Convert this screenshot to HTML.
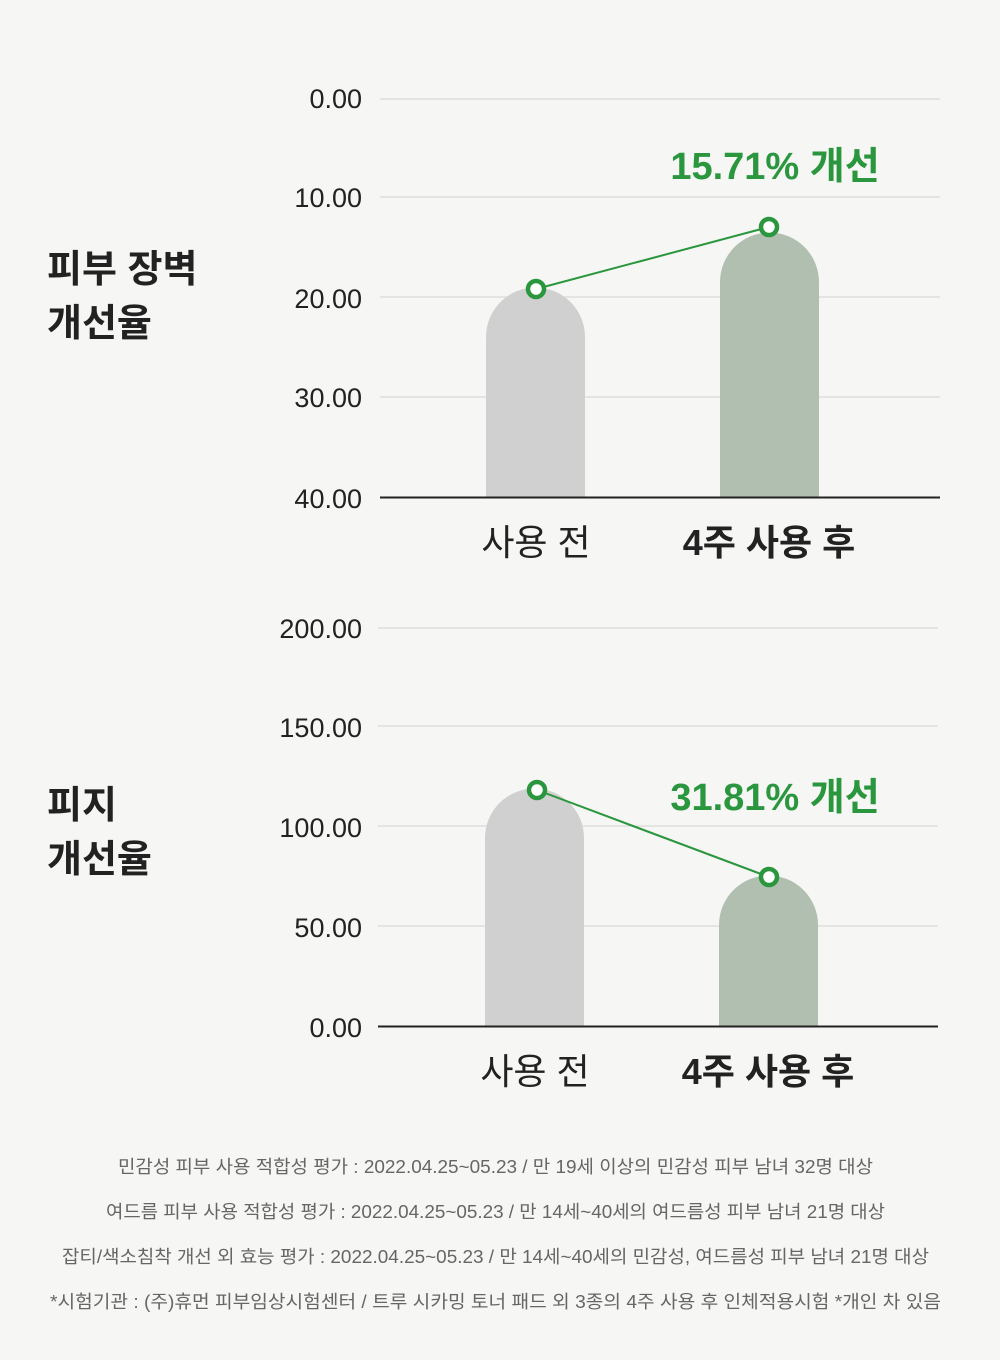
<!DOCTYPE html>
<html><head><meta charset="utf-8"><style>
html,body{margin:0;padding:0;background:#f6f6f4;}
svg{display:block;}
text{font-family:"Liberation Sans","Noto Sans CJK KR",sans-serif;}
</style></head><body>
<svg width="1000" height="1360" viewBox="0 0 1000 1360">
<rect width="1000" height="1360" fill="#f6f6f4"/>
<!-- chart 1 -->
<g stroke="#d2d2d0" stroke-width="1">
<line x1="380" y1="99" x2="940" y2="99"/><line x1="380" y1="197" x2="940" y2="197"/>
<line x1="380" y1="297" x2="940" y2="297"/><line x1="380" y1="397" x2="940" y2="397"/>
</g>
<g font-size="27" fill="#222" text-anchor="end">
<text x="362" y="108">0.00</text><text x="362" y="207">10.00</text><text x="362" y="308">20.00</text>
<text x="362" y="407">30.00</text><text x="362" y="508">40.00</text>
</g>
<path d="M486 497 V337 A49.5 49.5 0 0 1 585 337 V497 Z" fill="#d0d0d0"/>
<path d="M720 497 V282 A49.5 49.5 0 0 1 819 282 V497 Z" fill="#b0bfb0"/>
<line x1="380" y1="497.5" x2="940" y2="497.5" stroke="#222" stroke-width="2"/>
<line x1="536" y1="289" x2="769" y2="227" stroke="#2a963e" stroke-width="2"/>
<circle cx="536" cy="289" r="8" fill="#fff" stroke="#2a963e" stroke-width="4.5"/>
<circle cx="769" cy="227" r="8" fill="#fff" stroke="#2a963e" stroke-width="4.5"/>
<text x="775" y="179" font-size="38" font-weight="bold" fill="#2a963e" text-anchor="middle">15.71% 개선</text>
<text x="536" y="555" font-size="36" fill="#222" text-anchor="middle">사용 전</text>
<text x="769" y="555" font-size="36" font-weight="bold" fill="#222" text-anchor="middle">4주 사용 후</text>
<text x="47" y="282" font-size="38" font-weight="bold" fill="#222">피부 장벽</text>
<text x="47" y="336" font-size="38" font-weight="bold" fill="#222">개선율</text>
<!-- chart 2 -->
<g stroke="#d2d2d0" stroke-width="1">
<line x1="378" y1="628" x2="938" y2="628"/><line x1="378" y1="726" x2="938" y2="726"/>
<line x1="378" y1="826" x2="938" y2="826"/><line x1="378" y1="926" x2="938" y2="926"/>
</g>
<g font-size="27" fill="#222" text-anchor="end">
<text x="362" y="638">200.00</text><text x="362" y="737">150.00</text><text x="362" y="837">100.00</text>
<text x="362" y="937">50.00</text><text x="362" y="1037">0.00</text>
</g>
<path d="M485 1026 V838 A49.5 49.5 0 0 1 584 838 V1026 Z" fill="#d0d0d0"/>
<path d="M719 1026 V925 A49.5 49.5 0 0 1 818 925 V1026 Z" fill="#b0bfb0"/>
<line x1="378" y1="1026.5" x2="938" y2="1026.5" stroke="#222" stroke-width="2"/>
<line x1="537" y1="790" x2="769" y2="877" stroke="#2a963e" stroke-width="2"/>
<circle cx="537" cy="790" r="8" fill="#fff" stroke="#2a963e" stroke-width="4.5"/>
<circle cx="769" cy="877" r="8" fill="#fff" stroke="#2a963e" stroke-width="4.5"/>
<text x="775" y="810" font-size="38" font-weight="bold" fill="#2a963e" text-anchor="middle">31.81% 개선</text>
<text x="535" y="1084" font-size="36" fill="#222" text-anchor="middle">사용 전</text>
<text x="768" y="1084" font-size="36" font-weight="bold" fill="#222" text-anchor="middle">4주 사용 후</text>
<text x="47" y="818" font-size="38" font-weight="bold" fill="#222">피지</text>
<text x="47" y="872" font-size="38" font-weight="bold" fill="#222">개선율</text>
<!-- footnotes -->
<g font-size="18" fill="#666">
<text x="118" y="1173" textLength="755" lengthAdjust="spacingAndGlyphs">민감성 피부 사용 적합성 평가 :  2022.04.25~05.23 / 만 19세 이상의 민감성 피부 남녀 32명 대상</text>
<text x="106" y="1218" textLength="779" lengthAdjust="spacingAndGlyphs">여드름 피부 사용 적합성 평가 : 2022.04.25~05.23 / 만 14세~40세의 여드름성 피부 남녀 21명 대상</text>
<text x="62" y="1263" textLength="867" lengthAdjust="spacingAndGlyphs">잡티/색소침착 개선 외 효능 평가 : 2022.04.25~05.23 / 만 14세~40세의 민감성, 여드름성 피부 남녀 21명 대상</text>
<text x="50" y="1308" textLength="891" lengthAdjust="spacingAndGlyphs">*시험기관 :  (주)휴먼 피부임상시험센터 / 트루 시카밍 토너 패드 외 3종의 4주 사용 후 인체적용시험  *개인 차 있음</text>
</g>
</svg>
</body></html>
